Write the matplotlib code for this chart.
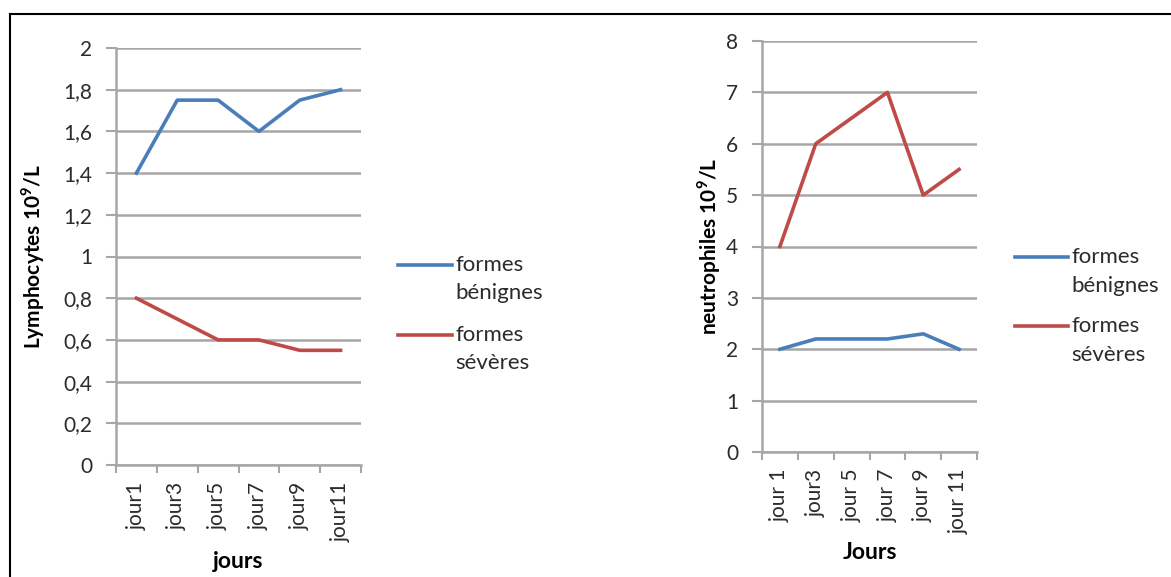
import matplotlib.pyplot as plt
from matplotlib.lines import Line2D

plt.rcParams['font.family'] = ['Lato', 'DejaVu Sans']
plt.rcParams['mathtext.fontset'] = 'custom'
plt.rcParams['mathtext.rm'] = 'Lato'
plt.rcParams['mathtext.bf'] = 'Lato:bold'

# data
jours_lymph = ['jour1', 'jour3', 'jour5', 'jour7', 'jour9', 'jour11']
lymph_benignes = [1.4, 1.75, 1.75, 1.6, 1.75, 1.8]
lymph_severes = [0.8, 0.7, 0.6, 0.6, 0.55, 0.55]

jours_neutro = ['jour 1', 'jour3', 'jour 5', 'jour 7', 'jour 9', 'jour 11']
neutro_benignes = [2.0, 2.2, 2.2, 2.2, 2.3, 2.0]
neutro_severes = [4.0, 6.0, 6.5, 7.0, 5.0, 5.5]

legend_labels = ['formes\nbénignes', 'formes\nsévères']

BLUE = '#4a7ebb'
RED = '#be4b48'
GRID = '#a6a6a6'
TXT = '#2b2b2b'

W, H = 1171, 577
fig = plt.figure(figsize=(W / 100, H / 100), dpi=100)


def px_axes(x0, x1, ytop, ybot):
    return fig.add_axes([x0 / W, 1 - ybot / H, (x1 - x0) / W, (ybot - ytop) / H])


def style_axes(ax, cats, ymax, ystep, fmt, ylabel, xlabel, ylab_x, xlab_y):
    n = len(cats)
    ax.set_xlim(0, n)
    ax.set_ylim(0, ymax)
    ax.set_xticks(range(n + 1))
    ax.set_xticklabels([])
    ax.set_xticks([i + 0.5 for i in range(n)], minor=True)
    ax.set_xticklabels(cats, minor=True, rotation=90, fontsize=15, color=TXT)
    ax.tick_params(axis='x', which='major', length=6, width=1.5, color=GRID, direction='out')
    ax.tick_params(axis='x', which='minor', length=0, pad=12)
    yt = [i * ystep for i in range(int(round(ymax / ystep)) + 1)]
    ax.set_yticks(yt)
    ax.set_yticklabels([fmt(v) for v in yt], fontsize=15, color=TXT)
    ax.tick_params(axis='y', length=7, width=1.5, color=GRID, pad=10)
    ax.grid(axis='y', color=GRID, lw=1.8)
    ax.set_axisbelow(True)
    for s in ['top', 'right']:
        ax.spines[s].set_visible(False)
    for s in ['left', 'bottom']:
        ax.spines[s].set_color(GRID)
        ax.spines[s].set_linewidth(1.8)
    ax.set_ylabel(ylabel, fontsize=15, fontweight='bold')
    ax.yaxis.set_label_coords(ylab_x, 0.5)
    ax.set_xlabel(xlabel, fontsize=16.5, fontweight='bold')
    ax.xaxis.set_label_coords(0.5, xlab_y)


def fr(v):
    return ('%g' % round(v, 1)).replace('.', ',')


def legend(x0, x1, ys):
    for (y1, y2), col, lab in zip(ys, [BLUE, RED], legend_labels):
        fig.add_artist(Line2D([x0 / W, x1 / W], [1 - y1 / H] * 2, color=col, lw=2.6,
                              transform=fig.transFigure))
        l1, l2 = lab.split('\n')
        fig.text((x1 + 3) / W, 1 - y1 / H, l1, fontsize=16, color=TXT, va='center')
        fig.text((x1 + 3) / W, 1 - y2 / H, l2, fontsize=16, color=TXT, va='center')


# left chart
ax1 = px_axes(116, 361, 48, 465)
x = [i + 0.5 for i in range(len(jours_lymph))]
ax1.plot(x, lymph_benignes, color=BLUE, lw=2.6)
ax1.plot(x, lymph_severes, color=RED, lw=2.6)
style_axes(ax1, jours_lymph, 2, 0.2, fr, r'Lymphocytes 10$^{\mathbf{9}}$/L', 'jours',
           (47 - 116) / 245, (465 - 551) / 417)
legend(398, 452, [(265, 293), (335, 363)])

# right chart
ax2 = px_axes(762, 977, 41, 452)
x = [i + 0.5 for i in range(len(jours_neutro))]
ax2.plot(x, neutro_benignes, color=BLUE, lw=2.6)
ax2.plot(x, neutro_severes, color=RED, lw=2.6)
style_axes(ax2, jours_neutro, 8, 1, lambda v: '%d' % v, r'neutrophiles 10$^{\mathbf{9}}$/L', 'Jours',
           (723 - 762) / 215, (452 - 542) / 411)
legend(1015, 1068, [(257, 286), (326, 355)])

# frame
fig.add_artist(Line2D([10 / W, 1], [1 - 14 / H] * 2, color='black', lw=1.5,
                      transform=fig.transFigure))
fig.add_artist(Line2D([10 / W, 10 / W], [0, 1 - 14 / H], color='black', lw=1.5,
                      transform=fig.transFigure))

fig.savefig('out.png', dpi=100)
